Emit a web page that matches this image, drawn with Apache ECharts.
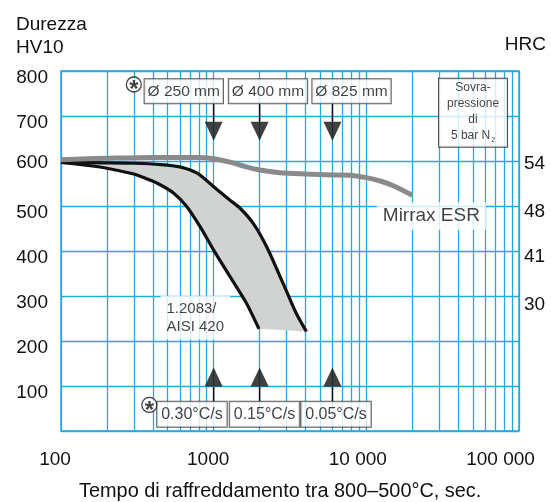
<!DOCTYPE html>
<html><head><meta charset="utf-8">
<script src="https://cdn.jsdelivr.net/npm/echarts@6/dist/echarts.min.js"></script>
<style>html,body{margin:0;padding:0;background:#fff}#c{width:551px;height:502px}</style>
</head><body><div id="c"></div>
<script>
// ---- axis ticks ----
const xTicks = [100, 1000, 10000, 100000];
const xTickLabels = ['100', '1000', '10 000', '100 000'];
const xMinorTicks = [200,300,400,500,600,700,800,900,2000,3000,4000,5000,6000,7000,8000,9000,20000,30000,40000,50000,60000,70000,80000,90000];
const hrcHV = [300, 400, 500, 600];
const hrcLabels = ['30', '41', '48', '54'];

// ---- series values ----
const mirraxTime = [100, 200, 400, 800, 1000, 1300, 1600, 2000, 2700, 4000, 6000, 8000, 10000, 12500, 15000, 20000];
const mirraxHV   = [603, 606, 608, 608, 605, 597, 588, 580, 574, 571, 569, 568, 563, 555, 545, 524];

const upperTime = [100, 200, 300, 450, 600, 780, 1000, 1280, 1490, 1820, 2220, 2850, 3480, 4050];
const upperHV   = [597, 596, 595, 592, 587, 573, 543, 513, 495, 461, 410, 328, 261, 221];

const lowerTime = [100, 150, 200, 300, 330, 430, 550, 670, 815, 1000, 1280, 1640, 1980];
const lowerHV   = [597, 590, 584, 571, 566, 550, 528, 498, 454, 402, 343, 284, 227];

// ---- annotations ----
const arrowTime = [1000, 2000, 6000];
const diameterLabels = ['Ø 250 mm', 'Ø 400 mm', 'Ø 825 mm'];
const rateLabels = ['0.30°C/s', '0.15°C/s', '0.05°C/s'];

// annotation anchors (data space)
const topBoxTime = [637, 2269, 8000], topBoxHV = 755;
const botBoxTime = [721, 2153, 6329], botBoxHV = 37;
const topShaft = [728, 687], topTriHV = 666;
const botShaft = [98, 65], botTriHV = 120;
const starPts = [[300, 770], [379, 58]];

const CYAN = '#22a8e2', INK = '#111', FONT = 'Liberation Sans, Arial, sans-serif';

const pair = (ts, vs) => ts.map((t, i) => [t, vs[i]]);
const bandPoly = pair(upperTime, upperHV).concat(pair(lowerTime, lowerHV).reverse());

const chart = echarts.init(document.getElementById('c'), null, {renderer: 'canvas'});

const series = [];
// minor vertical grid lines
series.push({
  type: 'line', data: [], z: 1, silent: true,
  markLine: {
    z: 1, silent: true, animation: false, symbol: ['none', 'none'], label: {show: false},
    lineStyle: {color: CYAN, width: 1.3, type: 'solid'},
    emphasis: {disabled: true},
    data: xMinorTicks.map(v => ({xAxis: v}))
  }
});
// white-background labels
series.push({
  type: 'scatter', z: 3, symbolSize: 1, itemStyle: {color: 'transparent'}, silent: true,
  data: [{value: [445, 252], name: '1.2083/\nAISI 420'}],
  label: {show: true, position: 'right', distance: 0, align: 'left', formatter: '{b}',
    fontSize: 15, lineHeight: 18.4, color: INK, fontFamily: FONT,
    backgroundColor: '#fff', padding: [4, 6, 3, 6]}
});
series.push({
  type: 'scatter', z: 3, symbolSize: 1, itemStyle: {color: 'transparent'}, silent: true,
  data: [{value: [26670, 478], name: 'Mirrax ESR'}],
  label: {show: true, position: 'inside', formatter: '{b}',
    fontSize: 19, lineHeight: 21, color: INK, fontFamily: FONT,
    backgroundColor: '#fff', padding: [4, 6, 3, 6]}
});
// band fill
series.push({
  type: 'custom', z: 4, silent: true, data: [[100, 597]],
  renderItem: function (params, api) {
    return {type: 'polygon', shape: {points: bandPoly.map(p => api.coord(p))},
      style: {fill: '#d1d2d2', stroke: null}};
  }
});
// black bounding lines
[[upperTime, upperHV], [lowerTime, lowerHV]].forEach(([t, v]) => {
  series.push({type: 'line', z: 5, data: pair(t, v), symbol: 'none', smooth: 0.25,
    lineStyle: {color: '#111', width: 3.2}, silent: true});
});
// Mirrax ESR
series.push({type: 'line', z: 6, data: pair(mirraxTime, mirraxHV), symbol: 'none', smooth: 0.3,
  lineStyle: {color: '#8a8a8a', width: 5, cap: 'butt'}, silent: true});
// arrows
arrowTime.forEach(t => {
  series.push({type: 'line', z: 7, data: [[t, topShaft[0]], [t, topShaft[1]]], symbol: 'none',
    lineStyle: {color: '#111', width: 1.5}, silent: true});
  series.push({type: 'line', z: 7, data: [[t, botShaft[0]], [t, botShaft[1]]], symbol: 'none',
    lineStyle: {color: '#111', width: 1.5}, silent: true});
});
series.push({type: 'scatter', z: 7, silent: true, symbol: 'triangle', symbolRotate: 180, symbolSize: [18, 19],
  itemStyle: {color: '#111'}, data: arrowTime.map(t => [t, topTriHV])});
series.push({type: 'scatter', z: 7, silent: true, symbol: 'triangle', symbolSize: [18, 19],
  itemStyle: {color: '#111'}, data: arrowTime.map(t => [t, botTriHV])});
// boxes
series.push({
  type: 'scatter', z: 8, symbolSize: 1, itemStyle: {color: 'transparent'}, silent: true,
  data: diameterLabels.map((s, i) => ({value: [topBoxTime[i], topBoxHV], name: s})),
  label: {show: true, position: 'inside', formatter: '{b}', fontSize: 15.5, lineHeight: 17,
    color: INK, fontFamily: FONT, backgroundColor: '#fff', borderColor: '#333', borderWidth: 1,
    padding: [4, 3, 3, 3]}
});
series.push({
  type: 'scatter', z: 8, symbolSize: 1, itemStyle: {color: 'transparent'}, silent: true,
  data: rateLabels.map((s, i) => ({value: [botBoxTime[i], botBoxHV], name: s})),
  label: {show: true, position: 'inside', formatter: '{b}', fontSize: 16, lineHeight: 17,
    color: INK, fontFamily: FONT, backgroundColor: '#fff', borderColor: '#333', borderWidth: 1,
    padding: [4, 4, 4, 4]}
});
series.push({
  type: 'scatter', z: 8, symbolSize: 1, itemStyle: {color: 'transparent'}, silent: true,
  data: [{value: [50000, 707], name: 'sovra'}],
  label: {show: true, position: 'inside',
    formatter: '{a|Sovra-}\n{a|pressione}\n{a|di}\n{a|5 bar N}{s|2}',
    backgroundColor: '#fff', borderColor: '#222', borderWidth: 1, padding: [1, 8, 3, 8],
    rich: {
      a: {fontSize: 12, lineHeight: 16, color: INK, fontFamily: FONT},
      s: {fontSize: 7, lineHeight: 16, color: INK, fontFamily: FONT, verticalAlign: 'bottom', padding: [6, 0, 0, 1]}
    }}
});
// star circles
series.push({
  type: 'scatter', z: 9, silent: true, symbol: 'circle', symbolSize: 15,
  itemStyle: {color: '#fff', borderColor: '#111', borderWidth: 1.3},
  data: starPts,
  label: {show: true, position: 'inside', formatter: '*', fontSize: 24, fontWeight: 'bold',
    color: '#111', fontFamily: FONT, offset: [0, 6]}
});

const xRich = {}, yRich = {}, rRich = {};
[12, 11, 17, 37].forEach((p, i) => { xRich['x' + i] = {padding: [0, p, 0, 0], fontSize: 19, color: INK, fontFamily: FONT}; });
yRich.d = {padding: [13, 0, 0, 0], fontSize: 19, color: INK, fontFamily: FONT};
yRich.u = {padding: [4, 0, 0, 0], fontSize: 19, color: INK, fontFamily: FONT};
[18, 12, 12, 6].forEach((p, i) => { rRich['r' + i] = {padding: [p, 0, 0, 0], fontSize: 19, color: INK, fontFamily: FONT}; });

const option = {
  animation: false,
  backgroundColor: '#fff',
  title: [
    {text: 'Durezza\nHV10', left: 16, top: 13, padding: 0,
      textStyle: {fontSize: 19, fontWeight: 'normal', lineHeight: 23, color: INK, fontFamily: FONT}},
    {text: 'HRC', right: 5, top: 35, padding: 0,
      textStyle: {fontSize: 19, fontWeight: 'normal', color: INK, fontFamily: FONT}},
    {text: 'Tempo di raffreddamento tra 800–500°C, sec.', left: 79, top: 482, padding: 0,
      textStyle: {fontSize: 19.9, fontWeight: 'normal', color: INK, fontFamily: FONT}}
  ],
  grid: {left: 61, top: 71, right: 32, bottom: 71, show: true, borderColor: CYAN, borderWidth: 1.5,
    backgroundColor: 'transparent', containLabel: false},
  xAxis: {
    type: 'log', logBase: 10, min: 100, max: 100000,
    axisLine: {show: false}, axisTick: {show: false},
    splitLine: {show: true, lineStyle: {color: CYAN, width: 1.3}},
    axisLabel: {margin: 19, fontSize: 19, color: INK, fontFamily: FONT, showMinLabel: true, showMaxLabel: true,
      formatter: v => { const i = xTicks.findIndex(t => Math.abs(t - v) < 1e-6 * t); return i < 0 ? '' : '{x' + i + '|' + xTickLabels[i] + '}'; },
      rich: xRich}
  },
  yAxis: [
    {type: 'value', min: 0, max: 800, interval: 100, position: 'left',
      axisLine: {show: false}, axisTick: {show: false},
      splitLine: {show: true, lineStyle: {color: CYAN, width: 1.3}},
      axisLabel: {margin: 13, fontSize: 19, color: INK, fontFamily: FONT,
        formatter: v => v === 0 ? '' : '{' + (v === 600 ? 'u' : 'd') + '|' + v + '}', rich: yRich}},
    {type: 'value', min: 0, max: 800, interval: 100, position: 'right',
      axisLine: {show: false}, axisTick: {show: false}, splitLine: {show: false},
      axisLabel: {margin: 5, fontSize: 19, color: INK, fontFamily: FONT,
        formatter: v => { const i = hrcHV.indexOf(v); return i < 0 ? '' : '{r' + i + '|' + hrcLabels[i] + '}'; },
        rich: rRich}}
  ],
  series: series
};
chart.setOption(option);
</script></body></html>
